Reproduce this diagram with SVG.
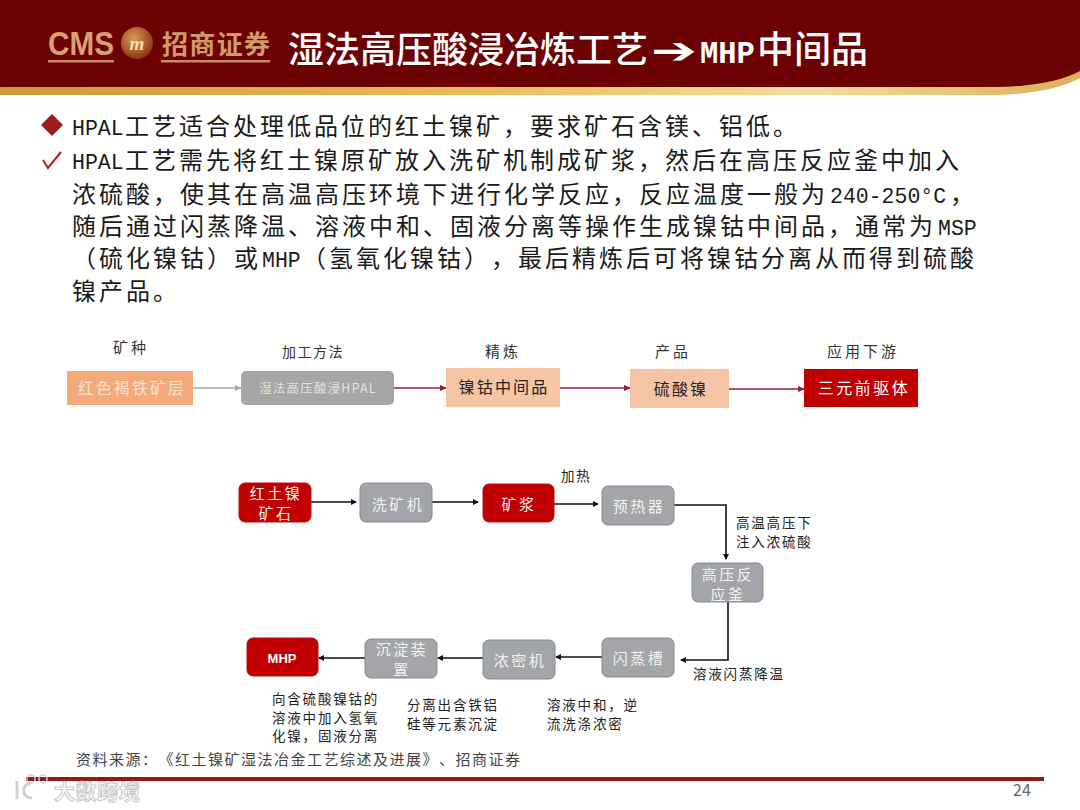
<svg xmlns="http://www.w3.org/2000/svg" width="1080" height="810" viewBox="0 0 1080 810">
<defs>
<linearGradient id="gold" x1="0" x2="1" y1="0" y2="0"><stop offset="0" stop-color="#c99a3c"/><stop offset="0.4" stop-color="#e6b955"/><stop offset="0.75" stop-color="#f3dc9c"/><stop offset="1" stop-color="#dcae5a"/></linearGradient>
<radialGradient id="ball" cx="0.4" cy="0.35" r="0.7"><stop offset="0" stop-color="#d99a55"/><stop offset="1" stop-color="#8a3012"/></radialGradient>
<marker id="ab" markerWidth="6" markerHeight="6" refX="5" refY="3" orient="auto" markerUnits="userSpaceOnUse"><path d="M0,0L6,3L0,6z" fill="#111"/></marker>
<marker id="ar" markerWidth="7" markerHeight="6" refX="6" refY="3" orient="auto" markerUnits="userSpaceOnUse"><path d="M0,0L7,3L0,6z" fill="#9c1c2c"/></marker>
<marker id="ag" markerWidth="7" markerHeight="6" refX="6" refY="3" orient="auto" markerUnits="userSpaceOnUse"><path d="M0,0L7,3L0,6z" fill="#a6a6a6"/></marker>
</defs>
<style>
text{font-family:"Noto Sans CJK SC","Liberation Sans",sans-serif;text-spacing-trim:space-all}
.body{font-size:24px;fill:#1a1a1a;letter-spacing:3px}
.lat{font-family:"Liberation Mono",monospace;letter-spacing:0;font-size:21.5px}
.hd{font-size:15px;fill:#333;text-anchor:middle;letter-spacing:3px}
.lb{font-size:13.5px;fill:#222;letter-spacing:1.8px}
.n{font-size:15px;text-anchor:middle;fill:#f2f2f2;letter-spacing:2.5px}
.gray{fill:#a3a5a8;stroke:#7f8b99;stroke-width:1}
.red{fill:#c00000;stroke:#b01010;stroke-width:1}
.blk{fill:none;stroke:#111;stroke-width:1.6;marker-end:url(#ab)}
.dr{fill:none;stroke:#9c1c2c;stroke-width:1.6;marker-end:url(#ar)}
</style>
<rect width="1080" height="810" fill="#fff"/>
<g id="header">
<path d="M0,0H1080V78C1062,88 1030,95 990,95H0z" fill="url(#gold)"/>
<path d="M0,0H1080V71C1062,81 1030,87 990,87H0z" fill="#6b0103"/>
<text x="48" y="55" font-size="33" font-weight="700" fill="#d9a070" textLength="66" lengthAdjust="spacingAndGlyphs" style="font-family:'Liberation Sans',sans-serif">CMS</text>
<rect x="48" y="60" width="66" height="2.5" fill="#c98a6a"/>
<circle cx="137" cy="43" r="16" fill="url(#ball)"/>
<text x="137" y="50" font-size="19" font-weight="700" font-style="italic" text-anchor="middle" fill="#f6e2b0" style="font-family:'Liberation Serif',serif">m</text>
<text x="162" y="54" font-size="26" font-weight="700" fill="#d29a68" textLength="108" lengthAdjust="spacing">招商证券</text>
<rect x="161" y="60" width="109" height="2.5" fill="#c98a6a"/>
<text y="63" font-size="36" font-weight="500" fill="#fff"><tspan x="288">湿法高压酸浸冶炼工艺</tspan><tspan x="651" style="font-family:'DejaVu Sans',sans-serif" textLength="46" lengthAdjust="spacingAndGlyphs">➔</tspan><tspan x="700" font-size="30.5" font-weight="700" style="font-family:'Liberation Mono',monospace">MHP</tspan><tspan x="757" font-size="37">中间品</tspan></text>
</g>
<g id="bullets">
<path d="M52,114L63,125L52,136L41,125z" fill="#9c1c1c"/>
<path d="M43,160L48,168L61,152" fill="none" stroke="#b02020" stroke-width="2"/>
<text class="body" y="135"><tspan class="lat" x="72">HPAL</tspan><tspan x="125">工艺适合处理低品位的红土镍矿，要求矿石含镁、铝低。</tspan></text>
<text class="body" y="169"><tspan class="lat" x="72">HPAL</tspan><tspan x="125">工艺需先将红土镍原矿放入洗矿机制成矿浆，然后在高压反应釜中加入</tspan></text>
<text class="body" y="203" x="72">浓硫酸，使其在高温高压环境下进行化学反应，反应温度一般为<tspan class="lat" x="830">240-250°C</tspan><tspan x="950">，</tspan></text>
<text class="body" y="235" x="72">随后通过闪蒸降温、溶液中和、固液分离等操作生成镍钴中间品，通常为<tspan class="lat" x="938">MSP</tspan></text>
<text class="body" y="267" x="72">（硫化镍钴）或<tspan class="lat" x="262">MHP</tspan><tspan x="302">（氢氧化镍钴），最后精炼后可将镍钴分离从而得到硫酸</tspan></text>
<text class="body" y="300" x="72">镍产品。</text>
</g>
<g id="connectors">
<path d="M193,388H241" fill="none" stroke="#a6a6a6" stroke-width="1.6" marker-end="url(#ag)"/>
<path class="dr" d="M394,388H446"/>
<path class="dr" d="M560,388H630"/>
<path class="dr" d="M729,389H804"/>
<path class="blk" d="M311,502H356"/>
<path class="blk" d="M432,502H478"/>
<path class="blk" d="M554,504H598"/>
<path class="blk" d="M674,505H726V559"/>
<path class="blk" d="M728,602V660H681"/>
<path class="blk" d="M602,657H556"/>
<path class="blk" d="M483,658H438"/>
<path class="blk" d="M365,658H319"/>
</g>
<g id="headings">
<text class="hd" x="131" y="353">矿种</text>
<text class="hd" x="313" y="357" style="font-size:14px;letter-spacing:1.5px">加工方法</text>
<text class="hd" x="503" y="357">精炼</text>
<text class="hd" x="673" y="357">产品</text>
<text class="hd" x="863" y="357">应用下游</text>
</g>
<g id="n1"><rect x="67" y="371" width="126" height="34" fill="#f4a97a"/><text class="n" x="132" y="394" style="fill:#fbe3d2;font-size:15.5px">红色褐铁矿层</text></g>
<g id="n2"><rect x="241" y="371" width="153" height="34" rx="5" fill="#a6a6a6"/><text class="n" x="318" y="393" style="font-size:12.5px;fill:#e2e2e2;letter-spacing:1.2px">湿法高压酸浸HPAL</text></g>
<g id="n3"><rect x="446" y="368" width="114" height="39" fill="#f6c5a5"/><text class="n" x="504" y="393" style="fill:#222;font-size:16px;letter-spacing:2.2px">镍钴中间品</text></g>
<g id="n4"><rect x="630" y="369" width="99" height="39" fill="#f6c5a5"/><text class="n" x="681" y="395" style="fill:#222;font-size:16px;letter-spacing:2.2px">硫酸镍</text></g>
<g id="n5"><rect x="804" y="369" width="114" height="38" fill="#c00000"/><text class="n" x="864" y="394" style="fill:#fff;font-size:16px;letter-spacing:2.5px">三元前驱体</text></g>
<g id="f1"><rect class="red" x="239" y="483" width="72" height="39" rx="6"/><text class="n" x="276" y="499">红土镍</text><text class="n" x="276" y="519">矿石</text></g>
<g id="f2"><rect class="gray" x="360" y="483" width="72" height="39" rx="6"/><text class="n" x="398" y="510">洗矿机</text></g>
<g id="f3"><rect class="red" x="483" y="484" width="71" height="38" rx="6"/><text class="n" x="519" y="510">矿浆</text></g>
<g id="f4"><rect class="gray" x="602" y="486" width="72" height="39" rx="6"/><text class="n" x="639" y="512">预热器</text></g>
<g id="f5"><rect class="gray" x="692" y="563" width="71" height="39" rx="6"/><text class="n" x="728" y="580">高压反</text><text class="n" x="728" y="600">应釜</text></g>
<g id="f6"><rect class="gray" x="602" y="638" width="72" height="39" rx="6"/><text class="n" x="639" y="664">闪蒸槽</text></g>
<g id="f7"><rect class="gray" x="483" y="640" width="72" height="39" rx="6"/><text class="n" x="520" y="666">浓密机</text></g>
<g id="f8"><rect class="gray" x="365" y="639" width="72" height="39" rx="6"/><text class="n" x="402" y="655">沉淀装</text><text class="n" x="402" y="675">置</text></g>
<g id="f9"><rect class="red" x="247" y="638" width="71" height="38" rx="6"/><text class="n" x="282" y="663" font-weight="700" style="font-size:13px;fill:#fff;letter-spacing:0;font-family:'Liberation Sans',sans-serif">MHP</text></g>
<g id="labels">
<text class="lb" x="561" y="481">加热</text>
<text class="lb" x="736" y="528">高温高压下</text>
<text class="lb" x="736" y="547">注入浓硫酸</text>
<text class="lb" x="693" y="679">溶液闪蒸降温</text>
<text class="lb" x="272" y="704">向含硫酸镍钴的</text>
<text class="lb" x="272" y="723">溶液中加入氢氧</text>
<text class="lb" x="272" y="741">化镍，固液分离</text>
<text class="lb" x="407" y="710">分离出含铁铝</text>
<text class="lb" x="407" y="729">硅等元素沉淀</text>
<text class="lb" x="547" y="710">溶液中和，逆</text>
<text class="lb" x="547" y="729">流洗涤浓密</text>
</g>
<text x="76" y="765" font-size="15" fill="#444" textLength="444" lengthAdjust="spacing">资料来源：《红土镍矿湿法冶金工艺综述及进展》、招商证券</text>
<g id="footer">
<rect x="26" y="777" width="1018" height="4" fill="#8f1a1a"/>
<text x="1022" y="796" font-size="16" fill="#666" text-anchor="middle">24</text>
</g>
<g id="watermark" fill="none" stroke="#d0d0d0" stroke-width="3">
<path d="M17,781V799M31,784C22,782 20,798 32,798"/>
<circle cx="31" cy="779" r="4" stroke-width="1.5"/><circle cx="43" cy="779" r="4" stroke-width="1.5"/>
<text x="54" y="799" font-size="21" font-weight="700" fill="#fff" stroke="#c8c8c8" stroke-width="1" textLength="86" lengthAdjust="spacing">大数跨境</text>
</g>
</svg>
